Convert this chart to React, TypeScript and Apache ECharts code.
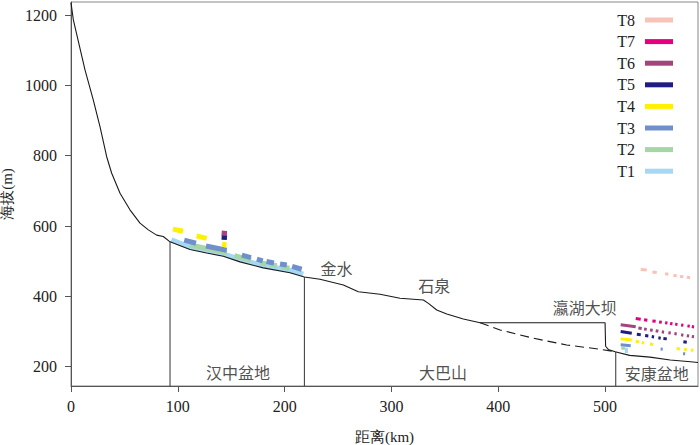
import React, { useEffect, useRef } from "react";
import * as echarts from "echarts";

type Pt = (number | null)[];
const GAP: Pt = [null, null];

const X_MIN = 0;
const X_MAX = 587;
const Y_MIN = 145;
const Y_MAX = 1237;
const X_TICKS = [0, 100, 200, 300, 400, 500];
const Y_TICKS = [200, 400, 600, 800, 1000, 1200];

// river long profile (km, m)
const PROFILE: Pt[] = [
  [0, 1235], [2.2, 1186], [13.1, 1044], [20.9, 958], [27.2, 882], [33.4, 797], [38.1, 750],
  [45.9, 693], [55.2, 646], [64.6, 608], [72.4, 589], [80.2, 574], [86.4, 570], [92.7, 555],
  [111.4, 533], [127, 523], [142.6, 514], [158.2, 498], [180, 481], [205, 467], [218.5, 455],
  [233.1, 448.5], [255, 432], [269, 413], [289.3, 406], [308, 394.5], [329.9, 389.6],
  [334.6, 380], [342.4, 361], [351.8, 350], [367.3, 335.6], [383, 325],
  [500, 325], [500.5, 258], [503, 249], [509.4, 242.6], [523, 232], [542, 227], [561, 219],
  [580, 214], [587, 212],
];
// former river bed under the reservoir
const OLD_BED: Pt[] = [
  [383, 325], [401.7, 304.4], [432.9, 280.8], [464.1, 261.7], [495.3, 249.5], [509.4, 242.6],
];
// basin boundary lines
const EDGE_KM = [92.7, 218.5, 510];
const EDGE_TOP = [555, 455, 242];

// place names
const PLACE_NAMES = ["金水", "石泉", "瀛湖大坝", "汉中盆地", "大巴山", "安康盆地"];
const PLACE_KM = [248.6, 340, 481, 156.4, 348.3, 548.4];
const PLACE_M = [480, 432, 371, 184, 184, 183];

// terraces
const TERRACES = ["T8", "T7", "T6", "T5", "T4", "T3", "T2", "T1"];
const TERRACE_COLORS: Record<string, string> = {
  T8: "#F7C3B8",
  T7: "#E4007F",
  T6: "#A4447F",
  T5: "#1F1D82",
  T4: "#FFF100",
  T3: "#7090CC",
  T2: "#A6D6A6",
  T1: "#A5D8F3",
};

const T1_HANZHONG: Pt[] = [[94, 561], [111.4, 540], [127, 530], [142.6, 521], [158.2, 505], [180, 488], [205, 474], [217.5, 463]];
const T2_HANZHONG: Pt[] = [
  [111.4, 546], [145.8, 524], GAP, [153, 516], [168.5, 503], GAP, [177, 496], [183, 492], GAP,
  [186, 491], [192.6, 487], GAP, [196.6, 485], [204.4, 480],
];
const T3_HANZHONG: Pt[] = [
  [106, 560], [117, 551], GAP, [126.4, 543], [145.8, 531], GAP, [160, 517], [168.5, 510], GAP,
  [174, 506], [179.5, 501], GAP, [183, 499], [190, 495], GAP, [195.7, 492], [202, 489], GAP,
  [207, 485], [216, 477],
];
const T4_HANZHONG: Pt[] = [[95.5, 591], [104.9, 585], GAP, [117.6, 572], [127, 565], GAP, [141.5, 548], [145.5, 546]];
const T5_HANZHONG: Pt[] = [[141, 568], [146, 567]];
const T6_HANZHONG: Pt[] = [[141, 580], [146, 579]];

const T1_ANKANG: Pt[] = [[520, 254], [520, 239]];
const T2_ANKANG: Pt[] = [[515.2, 252], [518.6, 252]];
const T3_ANKANG: Pt[] = [[514.6, 262], [524, 259.5], GAP, [552, 250], [554, 249.5], GAP, [573, 237], [575, 236.5]];
const T4_ANKANG: Pt[] = [
  [514.6, 279], [525, 275.5], GAP, [528.7, 272], [531.8, 270.5], GAP, [534.3, 268.5], [536.8, 267.5], GAP,
  [542, 264.5], [545, 263], GAP, [567, 251.5], [570, 250.5], GAP, [574, 249.5], [576.5, 248.5], GAP,
  [580.5, 247.5], [582.7, 246.5],
];
const T5_ANKANG: Pt[] = [
  [514.6, 300], [525, 295], GAP, [529.7, 292], [533.4, 291], GAP, [537.5, 288.5], [540.5, 287.5], GAP,
  [543.7, 285.5], [545.9, 284.5], GAP, [549.9, 282], [552.1, 281], GAP, [554.6, 280], [557.8, 279], GAP,
  [573.3, 271], [576.5, 269.5],
];
const T6_ANKANG: Pt[] = [
  [514.6, 319], [528.7, 313.5], GAP, [531.2, 310], [534.3, 308.5], GAP, [536.5, 307], [539, 306], GAP,
  [542.1, 304.5], [544.6, 303.5], GAP, [547.4, 302], [549.9, 300.5], GAP, [553.1, 299], [555.2, 298], GAP,
  [559.3, 296.5], [561.5, 295.5], GAP, [564.9, 294], [567.1, 293], GAP, [571.2, 290.5], [573.3, 289.5], GAP,
  [576.5, 288], [578.7, 287], GAP, [581.2, 286], [583.3, 285],
];
const T7_ANKANG: Pt[] = [
  [528.7, 337], [533.4, 335], GAP, [536.5, 333.5], [539.6, 332], GAP, [544.3, 330], [547.4, 329], GAP,
  [550.6, 327], [553.1, 326], GAP, [556.2, 325], [558.4, 324], GAP, [560.9, 323], [563.1, 322], GAP,
  [565.6, 321], [567.8, 320], GAP, [571.2, 318.5], [573.3, 317.5], GAP, [577.1, 316], [579.3, 315], GAP,
  [581.2, 314], [583.3, 313],
];
const T8_ANKANG: Pt[] = [
  [533.4, 476], [539, 475], GAP, [544.3, 469], [548.4, 468], GAP, [556.2, 464], [559.3, 463], GAP,
  [564, 459.5], [567.1, 458.5], GAP, [570.2, 456.5], [573.3, 455.5], GAP, [576.5, 454], [579.6, 453],
];

const HANZHONG: Record<string, Pt[]> = {
  T1: T1_HANZHONG, T2: T2_HANZHONG, T3: T3_HANZHONG, T4: T4_HANZHONG, T5: T5_HANZHONG, T6: T6_HANZHONG,
};
const ANKANG: Record<string, Pt[]> = {
  T1: T1_ANKANG, T2: T2_ANKANG, T3: T3_ANKANG, T4: T4_ANKANG, T5: T5_ANKANG, T6: T6_ANKANG,
  T7: T7_ANKANG, T8: T8_ANKANG,
};

const SERIF = "Times New Roman, Liberation Serif, DejaVu Serif, serif";
const CJK = "Noto Sans CJK SC";

function terraceSeries(name: string, data: Pt[], width: number) {
  const c = TERRACE_COLORS[name];
  return {
    type: "line",
    name,
    data,
    showSymbol: false,
    symbol: "none",
    connectNulls: false,
    silent: true,
    itemStyle: { color: c },
    lineStyle: { color: c, width, cap: "butt" },
    z: 2,
  };
}

export default function App() {
  const ref = useRef<HTMLDivElement>(null);
  useEffect(() => {
    if (!ref.current) return;
    const chart = echarts.init(ref.current, undefined, { renderer: "svg" });
    const series: any[] = [];
    ["T1", "T2", "T3", "T4", "T5", "T6", "T7", "T8"].forEach((t) => {
      if (HANZHONG[t]) series.push(terraceSeries(t, HANZHONG[t], 5));
    });
    ["T1", "T2", "T3", "T4", "T5", "T6", "T7", "T8"].forEach((t) => {
      if (ANKANG[t]) series.push(terraceSeries(t, ANKANG[t], 3));
    });
    series.push({
      type: "line",
      name: "profile",
      data: PROFILE,
      showSymbol: false,
      symbol: "none",
      silent: true,
      lineStyle: { color: "#1a1a1a", width: 1.1 },
      z: 3,
    });
    series.push({
      type: "line",
      name: "oldbed",
      data: OLD_BED,
      showSymbol: false,
      symbol: "none",
      silent: true,
      lineStyle: { color: "#1a1a1a", width: 1.1, type: [9, 5] },
      z: 3,
    });
    EDGE_KM.forEach((km, i) => {
      series.push({
        type: "line",
        name: "edge" + i,
        data: [[km, EDGE_TOP[i]], [km, Y_MIN]],
        showSymbol: false,
        symbol: "none",
        silent: true,
        lineStyle: { color: "#333", width: 1 },
        z: 3,
      });
    });
    series.push({
      type: "scatter",
      name: "places",
      silent: true,
      symbolSize: 0,
      data: PLACE_NAMES.map((n, i) => ({ name: n, value: [PLACE_KM[i], PLACE_M[i]] })),
      label: {
        show: true,
        position: "inside",
        formatter: "{b}",
        fontFamily: CJK,
        fontSize: 16,
        color: "#222",
      },
      z: 4,
    });

    const numLabel = (v: number) => String(Math.round(v));

    chart.setOption({
      animation: false,
      backgroundColor: "#fff",
      textStyle: { fontFamily: SERIF },
      grid: {
        left: 71, right: 2, top: 2, bottom: 59, show: true, borderColor: "#888", borderWidth: 1,
        containLabel: false, outerBoundsMode: "none",
      },
      legend: {
        data: TERRACES,
        orient: "vertical",
        right: 27,
        top: 12,
        padding: 0,
        align: "right",
        icon: "rect",
        itemWidth: 28,
        itemHeight: 5,
        itemGap: 5.6,
        selectedMode: false,
        itemStyle: { borderWidth: 0 },
        textStyle: { fontFamily: SERIF, fontSize: 16, lineHeight: 16, color: "#222", padding: [0, 5, 0, 0] },
      },
      xAxis: {
        type: "value",
        min: X_MIN,
        max: X_MAX,
        name: "距离(km)",
        nameLocation: "middle",
        nameGap: 43,
        nameTextStyle: { fontFamily: SERIF, fontSize: 15, color: "#222" },
        axisLine: { show: true, lineStyle: { color: "#555", width: 1 } },
        axisTick: { show: true, length: 6, lineStyle: { color: "#555" }, customValues: X_TICKS },
        axisLabel: {
          fontFamily: SERIF, fontSize: 16, color: "#222", margin: 12, customValues: X_TICKS,
          formatter: numLabel,
        },
        splitLine: { show: false },
      },
      yAxis: {
        type: "value",
        min: Y_MIN,
        max: Y_MAX,
        name: "海拔(m)",
        nameLocation: "middle",
        nameGap: 54,
        nameTextStyle: { fontFamily: SERIF, fontSize: 15, color: "#222" },
        axisLine: { show: true, lineStyle: { color: "#555", width: 1 } },
        axisTick: { show: true, length: 6, lineStyle: { color: "#555" }, customValues: Y_TICKS },
        axisLabel: {
          fontFamily: SERIF, fontSize: 16, color: "#222", margin: 14, customValues: Y_TICKS,
          formatter: numLabel,
        },
        splitLine: { show: false },
      },
      series,
    });
    return () => chart.dispose();
  }, []);
  return (
    <div
      ref={ref}
      style={{ position: "fixed", left: 0, top: 0, width: 700, height: 445, background: "#fff" }}
    />
  );
}
